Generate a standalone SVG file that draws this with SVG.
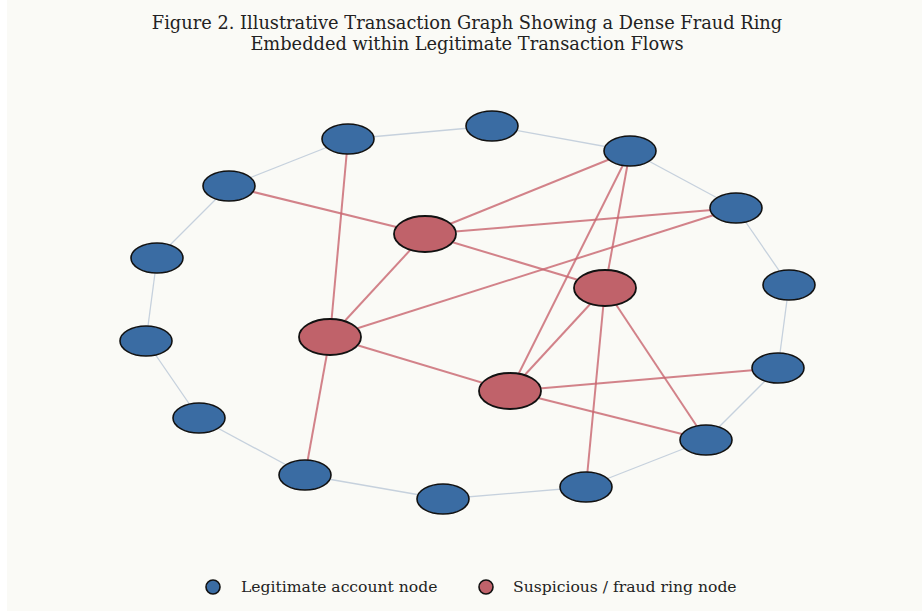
<svg xmlns="http://www.w3.org/2000/svg" width="922" height="611" viewBox="0 0 922 611">
<style>
.t{font-family:"DejaVu Serif",serif;font-size:17.8px;fill:#222;text-anchor:middle}
.lg{font-family:"DejaVu Serif",serif;font-size:15.6px;fill:#222}
.ring line{stroke:#c6d1dd;stroke-width:1.3}
.fr line{stroke:#c8646e;stroke-opacity:0.8;stroke-width:2}
.leg{fill:#3a6ca3;stroke:#111;stroke-width:1.6}
.sus{fill:#c0626a;stroke:#111;stroke-width:1.8}
</style>
<rect width="922" height="611" fill="#ffffff"/>
<rect x="7" y="0" width="915" height="611" fill="#fafaf6"/>
<text class="t" x="467" y="29">Figure 2. Illustrative Transaction Graph Showing a Dense Fraud Ring</text>
<text class="t" x="467" y="50">Embedded within Legitimate Transaction Flows</text>
<g id="connectors">
<g class="ring">
<line x1="348" y1="139" x2="492" y2="126"/>
<line x1="492" y1="126" x2="630" y2="151"/>
<line x1="630" y1="151" x2="736" y2="208"/>
<line x1="736" y1="208" x2="789" y2="285"/>
<line x1="789" y1="285" x2="778" y2="368"/>
<line x1="778" y1="368" x2="706" y2="440"/>
<line x1="706" y1="440" x2="586" y2="487"/>
<line x1="586" y1="487" x2="443" y2="499"/>
<line x1="443" y1="499" x2="305" y2="475"/>
<line x1="305" y1="475" x2="199" y2="418"/>
<line x1="199" y1="418" x2="146" y2="341"/>
<line x1="146" y1="341" x2="157" y2="258"/>
<line x1="157" y1="258" x2="229" y2="186"/>
<line x1="229" y1="186" x2="348" y2="139"/>
</g>
<g class="fr">
<line x1="229" y1="186" x2="425" y2="234"/>
<line x1="348" y1="139" x2="330" y2="337"/>
<line x1="425" y1="234" x2="630" y2="151"/>
<line x1="425" y1="234" x2="736" y2="208"/>
<line x1="425" y1="234" x2="605" y2="288"/>
<line x1="425" y1="234" x2="330" y2="337"/>
<line x1="330" y1="337" x2="736" y2="208"/>
<line x1="330" y1="337" x2="510" y2="391"/>
<line x1="330" y1="337" x2="305" y2="475"/>
<line x1="630" y1="151" x2="510" y2="391"/>
<line x1="630" y1="151" x2="605" y2="288"/>
<line x1="605" y1="288" x2="510" y2="391"/>
<line x1="605" y1="288" x2="586" y2="487"/>
<line x1="605" y1="288" x2="706" y2="440"/>
<line x1="510" y1="391" x2="778" y2="368"/>
<line x1="510" y1="391" x2="706" y2="440"/>
</g>
</g>
<g id="n1"><ellipse class="leg" cx="348" cy="139" rx="26" ry="15"/></g>
<g id="n2"><ellipse class="leg" cx="492" cy="126" rx="26" ry="15"/></g>
<g id="n3"><ellipse class="leg" cx="630" cy="151" rx="26" ry="15"/></g>
<g id="n4"><ellipse class="leg" cx="736" cy="208" rx="26" ry="15"/></g>
<g id="n5"><ellipse class="leg" cx="789" cy="285" rx="26" ry="15"/></g>
<g id="n6"><ellipse class="leg" cx="778" cy="368" rx="26" ry="15"/></g>
<g id="n7"><ellipse class="leg" cx="706" cy="440" rx="26" ry="15"/></g>
<g id="n8"><ellipse class="leg" cx="586" cy="487" rx="26" ry="15"/></g>
<g id="n9"><ellipse class="leg" cx="443" cy="499" rx="26" ry="15"/></g>
<g id="n10"><ellipse class="leg" cx="305" cy="475" rx="26" ry="15"/></g>
<g id="n11"><ellipse class="leg" cx="199" cy="418" rx="26" ry="15"/></g>
<g id="n12"><ellipse class="leg" cx="146" cy="341" rx="26" ry="15"/></g>
<g id="n13"><ellipse class="leg" cx="157" cy="258" rx="26" ry="15"/></g>
<g id="n14"><ellipse class="leg" cx="229" cy="186" rx="26" ry="15"/></g>
<g id="fA"><ellipse class="sus" cx="425" cy="234" rx="31" ry="18"/></g>
<g id="fB"><ellipse class="sus" cx="605" cy="288" rx="31" ry="18"/></g>
<g id="fC"><ellipse class="sus" cx="330" cy="337" rx="31" ry="18"/></g>
<g id="fD"><ellipse class="sus" cx="510" cy="391" rx="31" ry="18"/></g>
<g id="legend">
<circle class="leg" cx="213" cy="587" r="7"/>
<text class="lg" x="241" y="592">Legitimate account node</text>
<circle class="sus" cx="486" cy="587" r="7" style="stroke-width:1.6"/>
<text class="lg" x="513" y="592">Suspicious / fraud ring node</text>
</g>
</svg>
